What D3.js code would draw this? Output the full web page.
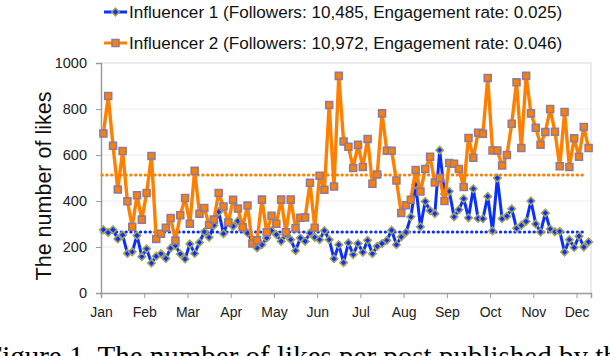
<html>
    <head>
        <title>Likes per post</title>
        <style>
            body { margin: 0; background: #fff; }
            text { font-family: "Liberation Sans", Arial, sans-serif; }
        </style>
    </head>
    <body>
        <svg></svg>
        <script src="https://d3js.org/d3.v7.min.js"></script>
        <script>
            // chart values
            var months = ["Jan", "Feb", "Mar", "Apr", "May", "Jun", "Jul", "Aug", "Sep", "Oct", "Nov", "Dec"];
            var postsPerMonthTick = 9;
            var yTicks = [0, 200, 400, 600, 800, 1000];
            var seriesNames = ["Influencer 1 (Followers: 10,485, Engagement rate: 0.025)",
                               "Influencer 2 (Followers: 10,972, Engagement rate: 0.046)"];
            var likes1 = [275, 263, 275, 235, 252, 172, 179, 250, 158, 192, 130, 160, 171, 150, 195, 206, 170, 148, 213, 172,
                          220, 266, 242, 294, 353, 258, 318, 290, 313, 283, 261, 225, 196, 210, 239, 271, 254, 225, 254, 232,
                          184, 239, 225, 261, 242, 232, 271, 232, 149, 210, 132, 218, 167, 215, 177, 229, 171, 203, 215, 229,
                          273, 210, 244, 264, 331, 471, 288, 398, 358, 345, 621, 430, 442, 331, 362, 410, 327, 453, 324, 323,
                          420, 270, 500, 323, 334, 366, 281, 294, 311, 400, 300, 265, 348, 278, 266, 268, 178, 232, 198, 247,
                          200, 222];
            var likes2 = [693, 857, 640, 450, 617, 399, 288, 425, 319, 435, 596, 235, 258, 284, 326, 228, 338, 413, 301, 531,
                          345, 370, 296, 319, 435, 376, 307, 405, 367, 286, 380, 215, 229, 406, 264, 336, 301, 406, 264, 406,
                          282, 327, 328, 479, 284, 510, 449, 817, 463, 944, 659, 636, 543, 644, 548, 670, 475, 515, 781, 618,
                          618, 489, 348, 382, 405, 535, 441, 539, 592, 480, 500, 400, 565, 562, 539, 461, 674, 588, 697, 692,
                          935, 620, 620, 554, 600, 736, 916, 630, 944, 781, 718, 645, 700, 800, 701, 551, 787, 548, 673, 592,
                          722, 630];
            // the dotted average lines
            var avgLikes = [265, 513];

            var width = 610;
            var height = 356;

            var svg = d3.select("svg")
                .attr("width", width)
                .attr("height", height);

            // plot area
            var plotLeft = 101, plotRight = 591, plotTop = 63, plotBottom = 293;

            var x = d3.scaleLinear().domain([0, likes1.length]).range([plotLeft, plotRight]);
            var y = d3.scaleLinear().domain([0, 1000]).range([plotBottom, plotTop]);

            // gridlines
            svg.append("g")
                .selectAll("line")
                .data(yTicks.slice(1))
                .enter()
                .append("line")
                .attr("x1", plotLeft).attr("x2", plotRight)
                .attr("y1", function(d) { return y(d); })
                .attr("y2", function(d) { return y(d); })
                .attr("stroke", function(d) { return d == 1000 ? "#d8d8d8" : "#ececec"; })
                .attr("stroke-width", 1);

            // right border
            svg.append("line")
                .attr("x1", plotRight).attr("x2", plotRight)
                .attr("y1", plotTop).attr("y2", plotBottom)
                .attr("stroke", "#d8d8d8");

            // y axis
            var yAxis = svg.append("g")
                .attr("transform", "translate(" + plotLeft + ",0)")
                .call(d3.axisLeft(y).tickValues(yTicks).tickFormat(d3.format("d")).tickSize(5).tickPadding(9));
            yAxis.select(".domain").attr("stroke", "#9a9a9a").attr("stroke-width", 1.5);
            yAxis.selectAll(".tick line").attr("stroke", "#9a9a9a");
            yAxis.selectAll("text").style("font-size", "14.5px").attr("fill", "#222");

            // x axis, a tick every 9 posts
            var xAxis = svg.append("g")
                .attr("transform", "translate(0," + plotBottom + ")")
                .call(d3.axisBottom(x)
                    .tickValues(d3.range(months.length).map(function(k) { return k * postsPerMonthTick; }))
                    .tickFormat(function(d) { return months[d / postsPerMonthTick]; })
                    .tickSize(5).tickPadding(9));
            xAxis.select(".domain").attr("stroke", "#9a9a9a").attr("stroke-width", 1.5);
            xAxis.selectAll(".tick line").attr("stroke", "#9a9a9a");
            xAxis.selectAll("text").style("font-size", "14px").attr("fill", "#222");

            // y title
            svg.append("text")
                .attr("transform", "translate(51,186) rotate(-90)")
                .attr("text-anchor", "middle")
                .style("font-size", "21.5px")
                .attr("fill", "#111")
                .text("The number of likes");

            var colors = ["#0a30ff", "#ff8000"];
            var outlines = ["#a2a25c", "#8e7a9a"];

            // average lines (dotted)
            svg.append("g")
                .selectAll("line")
                .data(avgLikes)
                .enter()
                .append("line")
                .attr("x1", x(0.2)).attr("x2", x(likes1.length - 1.5))
                .attr("y1", function(d) { return y(d); })
                .attr("y2", function(d) { return y(d); })
                .attr("stroke", function(d, i) { return colors[i]; })
                .attr("stroke-width", 3)
                .attr("stroke-linecap", "round")
                .attr("stroke-dasharray", "0.4,4.4");

            var line = d3.line()
                .x(function(d, i) { return x(i + 0.5); })
                .y(function(d) { return y(d); });

            var diamond = d3.symbol().type(d3.symbolDiamond2).size(36);
            var square = d3.symbol().type(d3.symbolSquare).size(48);

            // draw a series with its markers
            function drawSeries(values, k, symbol) {
                svg.append("path")
                    .datum(values)
                    .attr("d", line)
                    .attr("fill", "none")
                    .attr("stroke", colors[k])
                    .attr("stroke-width", k == 0 ? 3 : 3.4)
                    .attr("stroke-linejoin", "round");

                svg.append("g")
                    .selectAll("path")
                    .data(values)
                    .enter()
                    .append("path")
                    .attr("d", symbol)
                    .attr("transform", function(d, i) { return "translate(" + x(i + 0.5) + "," + y(d) + ")"; })
                    .attr("fill", colors[k])
                    .attr("stroke", outlines[k])
                    .attr("stroke-width", 1.6);
            }
            drawSeries(likes1, 0, diamond);
            drawSeries(likes2, 1, square);

            // legend
            var legendY = [12, 43];
            var legend = svg.append("g")
                .selectAll("g")
                .data(seriesNames)
                .enter()
                .append("g")
                .attr("transform", function(d, i) { return "translate(104," + legendY[i] + ")"; });
            legend.append("line")
                .attr("x1", 0).attr("x2", 23)
                .attr("stroke", function(d, i) { return colors[i]; })
                .attr("stroke-width", 3);
            legend.append("path")
                .attr("d", function(d, i) { return i == 0 ? diamond() : square(); })
                .attr("transform", "translate(11.5,0)")
                .attr("fill", function(d, i) { return colors[i]; })
                .attr("stroke", function(d, i) { return outlines[i]; })
                .attr("stroke-width", 1.6);
            legend.append("text")
                .attr("x", 25)
                .attr("dy", "0.36em")
                .style("font-size", "17.1px")
                .attr("fill", "#111")
                .text(function(d) { return d; });

            // caption of the figure, cut by the bottom edge
            svg.append("text")
                .attr("x", -14)
                .attr("y", 366)
                .style("font-family", "'Liberation Serif', 'Times New Roman', serif")
                .style("font-size", "29px")
                .attr("fill", "#000")
                .text("Figure 1. The number of likes per post published by the influencers");
        </script>
    </body>
</html>
